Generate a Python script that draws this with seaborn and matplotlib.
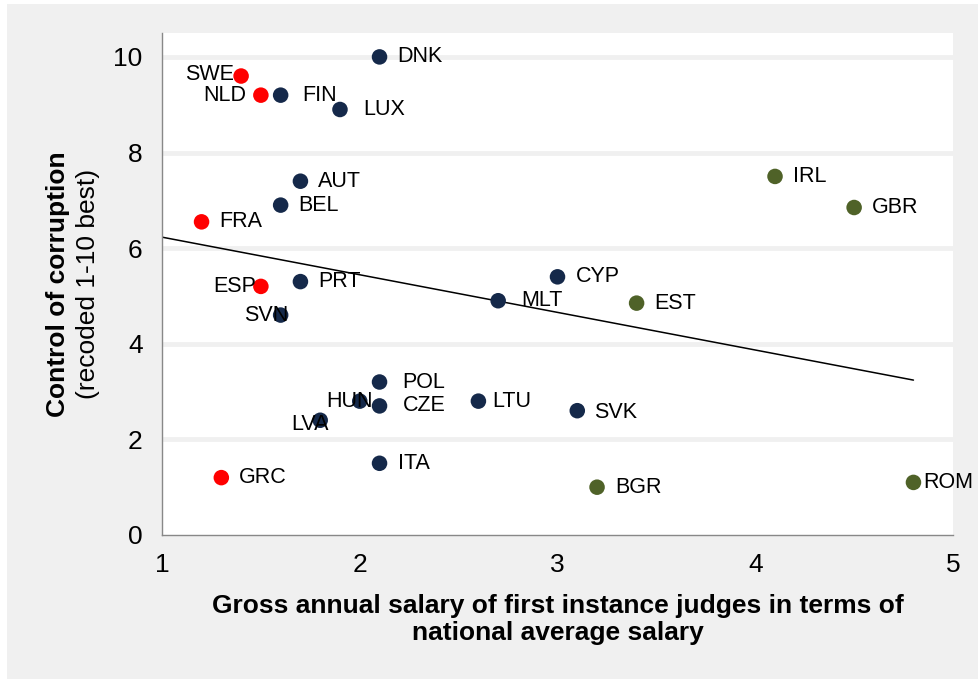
import pandas as pd
import seaborn as sns
import matplotlib.pyplot as plt
from matplotlib.patches import Rectangle

countries = ['DNK', 'SWE', 'NLD', 'FIN', 'LUX', 'AUT', 'BEL', 'FRA', 'ESP', 'PRT',
             'SVN', 'CYP', 'MLT', 'EST', 'IRL', 'GBR', 'POL', 'HUN', 'CZE', 'LTU',
             'SVK', 'LVA', 'ITA', 'GRC', 'BGR', 'ROM']
salary = [2.1, 1.4, 1.5, 1.6, 1.9, 1.7, 1.6, 1.2, 1.5, 1.7,
          1.6, 3.0, 2.7, 3.4, 4.1, 4.5, 2.1, 2.0, 2.1, 2.6,
          3.1, 1.8, 2.1, 1.3, 3.2, 4.8]
corruption = [10.0, 9.6, 9.2, 9.2, 8.9, 7.4, 6.9, 6.55, 5.2, 5.3,
              4.6, 5.4, 4.9, 4.85, 7.5, 6.85, 3.2, 2.8, 2.7, 2.8,
              2.6, 2.4, 1.5, 1.2, 1.0, 1.1]
group = ['navy', 'red', 'red', 'navy', 'navy', 'navy', 'navy', 'red', 'red', 'navy',
         'navy', 'navy', 'navy', 'green', 'green', 'green', 'navy', 'navy', 'navy', 'navy',
         'navy', 'navy', 'navy', 'red', 'green', 'green']

# linear trend line
trend_x = [1.0, 4.8]
trend_y = [6.23, 3.24]

df = pd.DataFrame({'country': countries, 'salary': salary,
                   'corruption': corruption, 'group': group})

palette = {'navy': '#15294a', 'red': '#ff0000', 'green': '#4f6228'}

# label placement (pixel offset from dot, alignment)
label_pos = {'SWE': (-7, 2, 'right'), 'NLD': (-15, 0, 'right'), 'ESP': (-5, 0, 'right'),
             'SVN': (8, 0, 'right'), 'HUN': (13, 0, 'right'), 'LVA': (9, -4, 'right'),
             'FIN': (22, 0, 'left'), 'LUX': (23, 0, 'left'), 'MLT': (23, 0, 'left'),
             'POL': (23, 0, 'left'), 'CZE': (23, 0, 'left'), 'LTU': (14, 0, 'left'),
             'ROM': (10, 0, 'left'), 'SVK': (17, -2, 'left')}

sns.set_style('white')
plt.rcParams['font.family'] = ['Liberation Sans', 'DejaVu Sans']
plt.rcParams['text.color'] = 'black'
plt.rcParams['axes.labelcolor'] = 'black'
plt.rcParams['xtick.labelcolor'] = 'black'
plt.rcParams['ytick.labelcolor'] = 'black'

fig = plt.figure(figsize=(9.79, 6.79), dpi=100, facecolor='white')
fig.patches.append(Rectangle((7 / 979, 0), 1, 675 / 679, transform=fig.transFigure,
                             facecolor='#f0f0f0', edgecolor='none', zorder=-1))
ax = fig.add_axes([162 / 979, 144 / 679, 791 / 979, 502 / 679])
ax.set_facecolor('white')

for yv in [2, 4, 6, 8, 10]:
    ax.axhline(yv, color='#f0f0f0', lw=3.5, zorder=0)

sns.scatterplot(data=df, x='salary', y='corruption', hue='group', palette=palette,
                s=125, edgecolor='none', legend=False, ax=ax, zorder=3)

sns.lineplot(x=trend_x, y=trend_y, color='black', lw=1.1, ax=ax, zorder=2)

for c, xv, yv in zip(countries, salary, corruption):
    dx, dy, ha = label_pos.get(c, (18, 0, 'left'))
    ax.annotate(c, (xv, yv), xytext=(dx, dy), textcoords='offset pixels',
                ha=ha, va='center', fontsize=15.5, color='black', zorder=4)

ax.set_xlim(1, 5)
ax.set_ylim(0, 10.5)
ax.set_xticks([1, 2, 3, 4, 5])
ax.set_yticks([0, 2, 4, 6, 8, 10])
ax.tick_params(axis='both', labelsize=19, color='#888888', length=6, width=1,
               direction='out')
ax.tick_params(axis='y', pad=8)
ax.tick_params(axis='x', pad=7)
for side in ['top', 'right']:
    ax.spines[side].set_visible(False)
for side in ['left', 'bottom']:
    ax.spines[side].set_color('#888888')
    ax.spines[side].set_linewidth(1)

ax.set_xlabel('Gross annual salary of first instance judges in terms of\nnational average salary',
              fontsize=19, fontweight='bold', labelpad=12, linespacing=1.15)
ax.set_ylabel('')
fig.text(58 / 979, 1 - 284 / 679, 'Control of corruption', rotation=90,
         ha='center', va='center', fontsize=19, fontweight='bold')
fig.text(88 / 979, 1 - 284 / 679, '(recoded 1-10 best)', rotation=90,
         ha='center', va='center', fontsize=19)

fig.savefig('out.png', dpi=100, facecolor=fig.get_facecolor())
